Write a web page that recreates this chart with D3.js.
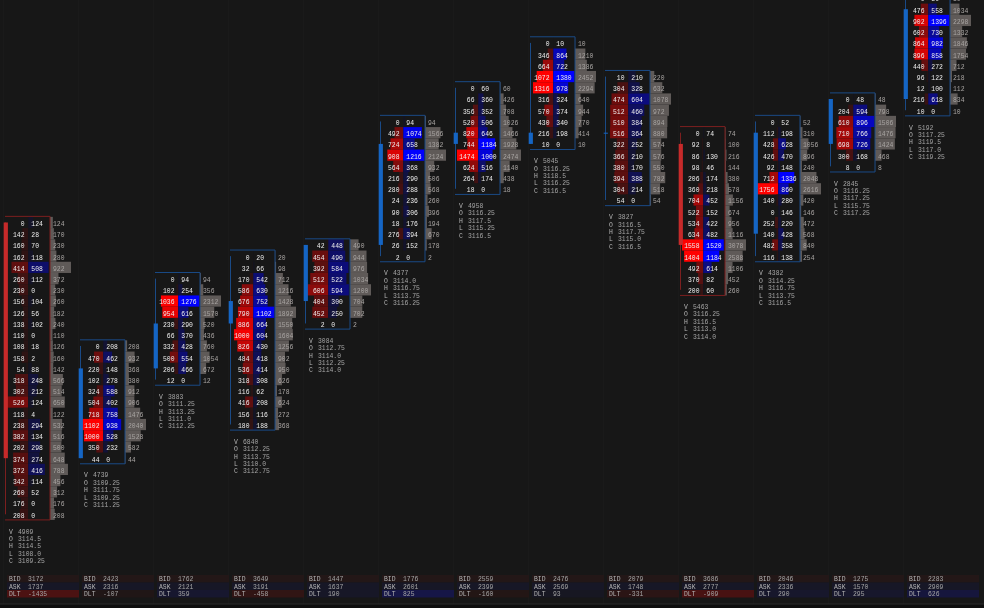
<!DOCTYPE html>
<html><head><meta charset="utf-8">
<style>html,body{margin:0;padding:0;background:#171717;overflow:hidden}svg{display:block}</style>
<script src="https://cdn.jsdelivr.net/npm/d3@7/dist/d3.min.js"></script>
</head><body><div id="c"></div>
<script>
const opens  =[3114.5,3109.25,3111.25,3112.25,3112.75,3114,3116.25,3116.25,3116.5,3116.25,3114.25,3116.25,3117.25];
const highs  =[3114.5,3111.75,3113.25,3113.75,3114,3116.75,3117.5,3118.5,3117.75,3116.5,3116.75,3117.25,3119.5];
const lows   =[3108,3109.25,3111,3110,3112.25,3113.75,3115.25,3116.25,3115,3113,3113.75,3115.75,3117];
const closes =[3109.25,3111.25,3112.25,3112.75,3114,3116.25,3116.5,3116.5,3116.5,3114,3116.5,3117.25,3119.25];
const volumes=[4909,4739,3883,6840,3084,4377,4958,5045,3827,5463,4382,2845,5192];
const bidTotals=[3172,2423,1762,3649,1447,1776,2559,2476,2079,3686,2046,1275,2283];
const askTotals=[1737,2316,2121,3191,1637,2601,2399,2569,1748,2777,2336,1570,2909];
const deltas=[-1435,-107,359,-458,190,825,-160,93,-331,-909,290,295,626];
const bids=[
[0,142,160,162,414,260,230,156,126,138,110,108,158,54,318,302,526,118,238,382,202,374,372,342,260,176,208],
[0,470,220,102,324,504,718,1102,1000,350,44],
[0,102,1036,954,230,66,332,500,206,12],
[0,32,170,586,676,790,886,1000,826,484,536,318,116,416,156,180],
[42,454,392,512,606,404,452,2],
[0,492,724,908,564,216,280,24,90,18,276,26,2],
[0,66,356,520,820,744,1474,624,264,18],
[0,346,664,1072,1316,316,570,430,216,10],
[10,304,474,512,510,516,322,366,380,394,304,54],
[0,92,86,98,206,360,704,522,534,634,1558,1404,492,370,200],
[0,112,428,426,92,712,1756,140,0,252,140,482,116],
[0,204,610,710,698,300,8],
[0,476,902,602,864,896,440,96,12,216,10]];
const asks=[
[124,28,70,118,508,112,0,104,56,102,0,18,2,88,248,212,124,4,294,134,298,274,416,114,52,0,0],
[208,462,148,278,588,402,758,938,528,232,0],
[94,254,1276,616,290,370,428,554,466,0],
[20,66,542,630,752,1102,664,604,430,418,414,308,62,208,116,188],
[448,490,584,522,594,300,250,0],
[94,1074,658,1216,368,290,288,236,306,176,394,152,0],
[60,360,352,506,646,1184,1000,516,174,0],
[10,864,722,1380,978,324,374,340,198,0],
[210,328,604,460,384,364,252,210,170,388,214,0],
[74,8,130,46,174,218,452,152,422,482,1520,1184,614,82,60],
[52,198,628,470,148,1336,860,280,146,220,428,358,138],
[48,594,896,766,726,168,0],
[30,558,1396,730,982,858,272,122,100,618,0]];
const statLabels=["V","O","H","L","C"];
const footLabels=["BID","ASK","DLT"];

const W=984,H=608,tick=0.25;
const y=d3.scaleLinear().domain([3119.5,3108]).range([-2,514.3]);
const x=d3.scaleLinear().domain([0,12]).range([5,905]);
const rowH=y(3114)-y(3114.25);
const font='"Liberation Mono",monospace';
const priceText=p=>{const s=String(p);return s.includes(".")?s:s+".0";};
const svg=d3.select("#c").append("svg").attr("width",W).attr("height",H);
svg.append("defs").append("filter").attr("id","soft").attr("x","-5%").attr("y","-5%").attr("width","110%").attr("height","110%")
 .append("feGaussianBlur").attr("stdDeviation",0.3);
svg.append("rect").attr("width",W).attr("height",H).attr("fill","#171717");
svg.append("g").selectAll("line").data(d3.range(13)).join("line")
 .attr("x1",d=>x(d)-1.5).attr("x2",d=>x(d)-1.5).attr("y1",0).attr("y2",604).attr("stroke","#1a1a1a");
const bidColor=d3.scalePow().exponent(1.3).domain([0,1040]).range(["#1b1515","#ff0000"]).clamp(true);
const askColor=d3.scalePow().exponent(1.3).domain([0,1150]).range(["#15151b","#0000ff"]).clamp(true);
const upBody="#1565c4",dnBody="#c62a2a",upLine="#1a4a86",dnLine="#7c1f1f";

d3.range(13).forEach(i=>{
  const g=svg.append("g"),x0=x(i),up=closes[i]>=opens[i];
  const rows=bids[i].map((b,k)=>({b,a:asks[i][k],t:b+asks[i][k],p:highs[i]-k*tick}));
  const cellW=d3.scaleLinear().domain([0,d3.max(rows,r=>Math.max(r.a,r.b))]).range([0,21]);
  const totW=d3.scaleLinear().domain([0,d3.max(rows,r=>r.t)]).range([0,21]);
  const top=y(highs[i])-rowH/2,bot=y(lows[i])+rowH/2;
  g.selectAll(".t").data(rows).join("rect").attr("x",x0+45).attr("y",r=>y(r.p)-rowH/2).attr("width",r=>totW(r.t)).attr("height",rowH).attr("fill","#5f5a58");
  g.selectAll(".b").data(rows).join("rect").attr("x",r=>x0+23-cellW(r.b)).attr("y",r=>y(r.p)-rowH/2).attr("width",r=>cellW(r.b)).attr("height",rowH).attr("fill",r=>bidColor(r.b));
  g.selectAll(".a").data(rows).join("rect").attr("x",x0+23.3).attr("y",r=>y(r.p)-rowH/2).attr("width",r=>cellW(r.a)).attr("height",rowH).attr("fill",r=>askColor(r.a));
  const line=up?upLine:dnLine;
  g.append("path").attr("d",`M${x0},${top-.5}H${x0+45}V${bot}H${x0}`).attr("fill","none").attr("stroke",line).attr("stroke-width",1);
  g.append("line").attr("x1",x0+.5).attr("x2",x0+.5).attr("y1",y(highs[i])).attr("y2",y(lows[i])).attr("stroke",line);
  const by=Math.min(y(opens[i]),y(closes[i])),bh=Math.abs(y(opens[i])-y(closes[i]));
  g.append("rect").attr("x",x0-1.3).attr("y",by).attr("width",4.2).attr("height",Math.max(bh,1)).attr("fill",up?upBody:dnBody);
  const dInt=d3.scaleLinear().domain([0,1000]).range([0,1]).clamp(true)(Math.abs(deltas[i]));
  const dCol=deltas[i]<0?d3.interpolateRgb("#1b1716","#4c1212")(dInt):d3.interpolateRgb("#17171d","#161650")(dInt);
  ["#231717","#171726",dCol].forEach((c,k)=>{
    g.append("rect").attr("x",x0+2).attr("y",575+k*7.5).attr("width",72).attr("height",7.5).attr("fill",c);
  });
  const t=g.append("g").attr("font-family",font).attr("font-size",6.4).attr("font-weight","normal").attr("filter","url(#soft)");
  const txt=(cls,xp,anchor,fn,col)=>t.selectAll("."+cls).data(rows).join("text").attr("class",cls).attr("x",xp).attr("y",r=>y(r.p)+3.4).attr("text-anchor",anchor).attr("fill",col).text(fn);
  txt("tb",x0+19.5,"end",r=>r.b,"#ececec");
  txt("ta",x0+26.3,"start",r=>r.a,"#ececec");
  txt("tt",x0+48,"start",r=>r.t,"#a8a4a2");
  const stats=[String(volumes[i]),priceText(opens[i]),priceText(highs[i]),priceText(lows[i]),priceText(closes[i])];
  statLabels.forEach((l,k)=>{
    const yy=bot+13.7+k*7.35;
    t.append("text").attr("x",x0+4).attr("y",yy).attr("fill","#b4b4b4").text(l);
    t.append("text").attr("x",x0+13).attr("y",yy).attr("fill","#a4a4a4").text(stats[k]);
  });
  const foot=[bidTotals[i],askTotals[i],deltas[i]];
  footLabels.forEach((l,k)=>{
    t.append("text").attr("x",x0+4).attr("y",581.2+k*7.5).attr("fill","#b4b4b4").text(l);
    t.append("text").attr("x",x0+23).attr("y",581.2+k*7.5).attr("fill","#a4a4a4").text(foot[k]);
  });
});
svg.append("rect").attr("y",604).attr("width",W).attr("height",4).attr("fill","#0e0e0e");
svg.append("line").attr("x1",0).attr("x2",W).attr("y1",604).attr("y2",604).attr("stroke","#2b2b2b");
</script></body></html>
